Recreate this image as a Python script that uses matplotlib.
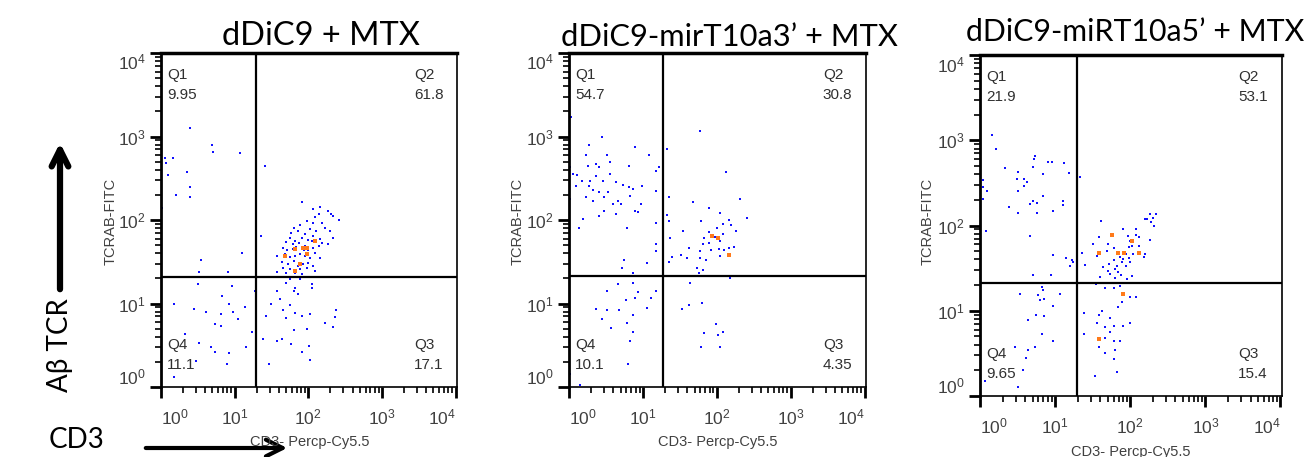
import numpy as np
import matplotlib
matplotlib.use("Agg")
import matplotlib.pyplot as plt
from matplotlib.ticker import FixedLocator, FuncFormatter

plt.rcParams['font.family'] = ['Liberation Sans', 'DejaVu Sans']

# ---- data (log10 of fluorescence) ----
titles = ["dDiC9 + MTX", "dDiC9-mirT10a3\u2019 + MTX", "dDiC9-miRT10a5\u2019 + MTX"]
quad_pct = [
    ["9.95", "61.8", "17.1", "11.1"],
    ["54.7", "30.8", "4.35", "10.1"],
    ["21.9", "53.1", "15.4", "9.65"],
]
# gate positions (CD3, TCRab)
gates = [(19.7, 20.9), (18.6, 21.4), (19.5, 21.4)]

p1_cd3 = [0.40, 0.69, 0.71, 1.07, 0.07, 0.16, 0.06, 0.10, 0.35, 0.39, 0.40, 0.21, 1.41, 0.01, 1.10, 0.55,
          0.52, 0.91, 1.36,
          1.91, 2.07, 2.16, 2.27, 2.31, 2.42, 2.09, 1.98, 1.89, 1.80, 1.86, 1.95, 2.02, 2.11, 2.18, 2.23,
          2.30, 2.34, 2.27, 2.16, 2.07, 2.00, 1.91, 1.82, 1.75, 1.70, 1.66, 1.71, 1.79, 1.84, 1.91, 1.95,
          2.00, 2.07, 2.14, 2.18, 2.16, 2.09, 2.02, 1.95, 1.89, 1.82, 1.75, 1.68, 1.57, 1.65, 1.73, 1.80,
          1.86, 1.93, 2.00, 2.07, 1.89, 1.82, 1.75, 1.66, 1.70, 1.91, 1.98, 2.09, 1.57, 2.05, 1.79, 1.94,
          1.87, 1.76, 2.06, 2.14, 2.34,
          0.50, 0.96, 1.27, 0.17, 0.45, 0.61, 0.83, 0.92, 0.98, 1.14, 0.82, 0.74, 0.81, 1.05, 1.23, 0.68,
          0.74, 0.92, 1.16, 0.89, 0.52, 0.48, 0.17, 0.32,
          1.43, 1.49, 1.57, 1.61, 1.66, 1.70, 1.75, 1.82, 1.91, 2.02, 1.80, 1.98, 2.01, 1.39, 1.58, 1.64,
          1.77, 1.91, 2.02, 1.46, 2.23, 2.33, 2.36, 2.38, 1.80, 1.82, 1.86, 2.05, 2.05, 1.70, 1.89, 1.75]
p1_tcr = [3.10, 2.90, 2.81, 2.80, 2.68, 2.74, 2.74, 2.54, 2.58, 2.39, 2.28, 2.30, 2.65, 2.14, 1.61, 1.52,
          1.38, 1.38, 1.81,
          2.22, 2.13, 2.16, 2.11, 2.07, 2.00, 2.04, 1.99, 1.94, 1.90, 1.87, 1.83, 1.89, 1.87, 1.97, 1.91,
          1.87, 1.79, 1.71, 1.77, 1.81, 1.76, 1.78, 1.75, 1.79, 1.74, 1.67, 1.64, 1.65, 1.68, 1.66, 1.69,
          1.64, 1.66, 1.69, 1.72, 1.55, 1.61, 1.55, 1.57, 1.59, 1.57, 1.56, 1.59, 1.57, 1.50, 1.47, 1.51,
          1.45, 1.47, 1.49, 1.45, 1.41, 1.37, 1.41, 1.43, 1.37, 1.35, 1.43, 1.39, 1.38, 1.75, 1.71, 1.64,
          1.73, 1.84, 1.96, 2.07, 2.05,
          1.23, 1.21, 1.15, 0.99, 0.93, 0.90, 1.09, 1.00, 0.90, 0.96, 0.88, 0.76, 0.73, 0.82, 0.66, 0.48,
          0.42, 0.41, 0.48, 0.27, 0.53, 0.31, 0.12, 0.63,
          0.85, 0.99, 1.15, 1.05, 0.92, 0.83, 0.98, 0.89, 0.85, 0.88, 0.68, 0.69, 0.49, 0.57, 0.55, 0.58,
          0.51, 0.42, 0.32, 0.27, 0.77, 0.72, 0.84, 0.92, 1.15, 1.19, 1.11, 1.23, 1.19, 1.25, 1.29, 1.29]
p1_hot_cd3 = [1.82, 1.93, 1.98, 1.89, 1.82, 2.09, 1.68, 1.98]
p1_hot_tcr = [1.65, 1.67, 1.59, 1.47, 1.39, 1.75, 1.57, 1.67]

p2_cd3 = [0.03, 0.45, 0.27, 0.89, 0.51, 0.23, 1.08, 0.36, 0.26, 0.41, 0.56, 0.81, 0.01, 0.05, 0.11, 0.17,
          0.09, 0.28, 0.36, 0.46, 0.55, 0.64, 0.73, 0.81, 0.87, 0.99, 0.53, 0.41, 0.32, 0.23, 0.32, 0.48,
          0.60, 0.71, 0.82, 0.89, 0.93, 0.98, 0.48, 0.63, 0.41, 0.19, 0.14, 0.02, 1.18, 1.22, 1.18, 1.18,
          1.18, 1.18, 0.79, 0.75, 0.72, 1.05, 0.87, 0.27, 0.66,
          1.77, 1.32, 2.12, 1.35, 1.68, 2.32, 1.32, 1.89, 2.04, 2.41, 1.36, 1.79, 2.17, 2.08, 2.19, 2.00,
          1.90, 1.98, 2.08, 2.26, 1.54, 1.83, 1.90, 1.81, 2.04, 2.17, 2.24, 1.37, 1.63, 1.77, 1.92, 2.03,
          2.10, 1.52, 1.40, 1.60, 1.77, 1.86, 2.04, 1.73, 1.81, 1.76, 1.35,
          0.66, 0.86, 0.94, 0.89, 0.77, 1.11, 1.05, 1.18, 0.51, 0.36, 0.51, 0.67, 0.86, 0.45, 0.78, 0.57,
          0.87, 0.83, 0.80, 0.15, 0.01,
          1.64, 1.53, 1.63, 1.80, 1.99, 1.83, 2.01, 2.09, 1.79, 2.05, 2.18]
p2_tcr = [3.23, 2.99, 2.90, 2.87, 2.78, 2.78, 2.78, 2.67, 2.65, 2.63, 2.70, 2.65, 2.63, 2.55, 2.54, 2.47,
          2.41, 2.47, 2.53, 2.47, 2.55, 2.45, 2.42, 2.39, 2.37, 2.41, 2.34, 2.33, 2.36, 2.27, 2.23, 2.27,
          2.19, 2.19, 2.29, 2.11, 2.10, 2.19, 2.11, 2.07, 2.05, 2.01, 1.91, 2.25, 2.59, 2.63, 2.35, 1.97,
          1.71, 1.63, 1.91, 1.52, 1.43, 1.49, 1.36, 2.41, 2.23,
          3.06, 2.85, 2.57, 2.28, 2.21, 2.25, 2.06, 2.14, 2.08, 2.02, 1.99, 1.99, 2.00, 1.95, 1.94, 1.91,
          1.86, 1.80, 1.83, 1.87, 1.87, 1.79, 1.73, 1.71, 1.75, 1.67, 1.68, 1.78, 1.67, 1.63, 1.64, 1.65,
          1.64, 1.58, 1.56, 1.54, 1.55, 1.52, 1.57, 1.43, 1.40, 1.36, 1.50,
          1.23, 1.25, 1.14, 1.06, 1.04, 1.06, 0.95, 1.15, 1.15, 0.93, 0.92, 0.92, 0.86, 0.81, 0.77, 0.71,
          0.66, 0.55, 0.27, 0.02, 0.15,
          1.25, 0.93, 0.98, 1.01, 0.75, 0.65, 0.62, 0.66, 0.48, 0.48, 1.31]
p2_hot_cd3 = [2.02, 2.17, 1.93]
p2_hot_tcr = [1.78, 1.58, 1.81]

p3_cd3 = [0.16, 0.21, 0.73, 0.72, 0.70, 0.90, 0.96, 1.12, 0.33, 0.50, 1.18, 1.33, 0.49, 0.59, 0.84, 0.63,
          0.59, 0.04, 0.04, 0.09, 0.50, 0.84, 0.04, 0.70, 0.66, 0.76, 1.10, 1.11, 0.39, 0.97, 0.50, 0.76,
          0.08, 0.66, 0.97, 1.15, 1.22, 1.20, 1.24, 0.71, 0.94,
          2.26, 2.22, 2.30, 2.34, 2.28, 2.31, 2.19, 1.61, 1.90, 2.08, 2.11, 1.97, 2.26, 2.12, 2.02, 2.00,
          1.98, 1.95, 1.78, 1.71, 1.58, 1.50, 1.69, 1.87, 1.91, 1.99, 2.04, 2.11, 2.18, 2.20, 1.82, 1.78,
          1.72, 1.82, 1.89, 1.95, 2.00, 1.80, 1.73, 1.84, 1.88, 1.96, 2.02, 1.80, 1.64, 1.60, 1.40, 1.36,
          1.56, 1.70, 2.07, 1.92,
          0.82, 0.84, 0.53, 1.06, 0.77, 0.80, 0.85, 0.97, 0.75, 0.85, 0.64, 0.83, 0.97, 0.73, 0.64, 0.61,
          0.47, 0.07, 0.50, 0.57,
          1.55, 1.67, 1.78, 1.87, 2.00, 2.08, 1.89, 1.84, 1.63, 1.59, 1.38, 1.73, 1.56, 1.67, 1.78, 1.90,
          2.00, 1.73, 1.39, 1.67, 1.78, 1.87, 1.58, 1.67, 1.80, 1.79, 1.83, 1.53]
p3_tcr = [3.06, 2.90, 2.82, 2.78, 2.69, 2.74, 2.74, 2.73, 2.68, 2.63, 2.61, 2.57, 2.55, 2.55, 2.60, 2.51,
          2.46, 2.53, 2.45, 2.41, 2.41, 2.35, 2.31, 2.29, 2.25, 2.26, 2.29, 2.24, 2.22, 2.17, 2.15, 2.15,
          1.93, 1.88, 1.65, 1.62, 1.60, 1.52, 1.57, 1.42, 1.42,
          2.14, 2.08, 2.09, 2.14, 2.04, 1.99, 2.08, 2.05, 1.96, 1.96, 1.86, 1.88, 1.83, 1.76, 1.76, 1.82,
          1.75, 1.67, 1.74, 1.78, 1.86, 1.78, 1.70, 1.63, 1.61, 1.62, 1.67, 1.67, 1.63, 1.67, 1.67, 1.60,
          1.55, 1.53, 1.57, 1.53, 1.57, 1.49, 1.43, 1.46, 1.42, 1.37, 1.41, 1.39, 1.51, 1.40, 1.54, 1.68,
          1.64, 1.47, 1.89, 1.68,
          1.28, 1.24, 1.20, 1.20, 1.18, 1.13, 1.14, 1.06, 0.95, 0.94, 0.89, 0.73, 0.64, 0.58, 0.54, 0.45,
          0.57, 0.18, 0.11, 0.31,
          1.31, 1.27, 1.27, 1.29, 1.16, 1.16, 1.10, 1.04, 1.00, 0.95, 0.97, 0.92, 0.86, 0.81, 0.82, 0.82,
          0.86, 0.75, 0.73, 0.68, 0.64, 0.65, 0.58, 0.50, 0.54, 0.43, 0.28, 0.24]
p3_hot_cd3 = [1.59, 1.84, 1.92, 2.02, 2.12, 1.76, 1.90, 1.59]
p3_hot_tcr = [1.68, 1.68, 1.68, 1.82, 1.68, 1.89, 1.20, 0.67]

W, H = 1308, 457
fig = plt.figure(figsize=(W / 100, H / 100), dpi=100)


def box(left, top, right, bottom):
    return [left / W, 1 - bottom / H, (right - left) / W, (bottom - top) / H]


panel_boxes = [box(161, 53, 457, 387), box(569, 53, 866, 387), box(980, 55, 1282, 396)]
ylabel_x = [111, 518, 928]
xlabel_pos = [(310, 442), (718, 442), (1131, 452)]
title_pos = [(321, 36), (729, 37), (1135, 32)]
title_size = [23.5, 22.2, 21.8]

panels = [(p1_cd3, p1_tcr, p1_hot_cd3, p1_hot_tcr),
          (p2_cd3, p2_tcr, p2_hot_cd3, p2_hot_tcr),
          (p3_cd3, p3_tcr, p3_hot_cd3, p3_hot_tcr)]

dec_fmt = FuncFormatter(lambda v, p: r'$\mathregular{10^{%d}}$' % round(np.log10(v)))
majors = [1, 10, 100, 1000, 10000]
minors = [m * 10 ** d for d in range(4) for m in range(2, 10)]

for i, (cd3, tcr, hcd3, htcr) in enumerate(panels):
    ax = fig.add_axes(panel_boxes[i])
    ax.set_xscale('log')
    ax.set_yscale('log')
    ax.set_xlim(1, 10 ** 4.02)
    ax.set_ylim(1, 10 ** 4.0)
    ax.scatter(10 ** np.array(cd3), 10 ** np.array(tcr), s=4, marker='s', c='#1010ff', linewidths=0)
    ax.scatter(10 ** np.array(hcd3), 10 ** np.array(htcr), s=5, marker='s', c='#ff7a1a', linewidths=0)
    gx, gy = gates[i]
    ax.axvline(gx, color='black', lw=1.6)
    ax.axhline(gy, color='black', lw=1.6)

    ax.xaxis.set_major_locator(FixedLocator(majors))
    ax.yaxis.set_major_locator(FixedLocator(majors))
    ax.xaxis.set_minor_locator(FixedLocator(minors))
    ax.yaxis.set_minor_locator(FixedLocator(minors))
    ax.xaxis.set_major_formatter(dec_fmt)
    ax.yaxis.set_major_formatter(dec_fmt)
    ax.tick_params(which='major', length=8, width=2, direction='out', labelsize=12.5,
                   labelcolor='#404040', pad=7)
    ax.tick_params(axis='y', which='major', pad=3)
    ax.tick_params(which='minor', length=4, width=1.2, direction='out')
    xl = ax.get_xticklabels()
    xl[0].set_ha('left')
    xl[-1].set_ha('right')
    yl = ax.get_yticklabels()
    yl[0].set_va('bottom')
    yl[-1].set_va('top')

    for s in ax.spines.values():
        s.set_linewidth(1.2)
    ax.spines['top'].set_linewidth(2.5)
    ax.spines['left'].set_linewidth(2.0)

    q1, q2, q3, q4 = quad_pct[i]
    qkw = dict(transform=ax.transAxes, fontsize=11, color='#303030', linespacing=1.5)
    ax.text(0.02, 0.955, "Q1\n" + q1, ha='left', va='top', **qkw)
    ax.text(0.855, 0.955, "Q2\n" + q2, ha='left', va='top', **qkw)
    ax.text(0.02, 0.045, "Q4\n" + q4, ha='left', va='bottom', **qkw)
    ax.text(0.855, 0.045, "Q3\n" + q3, ha='left', va='bottom', **qkw)

    fig.text(ylabel_x[i] / W, 1 - 221 / H, "TCRAB-FITC", rotation=90, ha='center', va='center',
             fontsize=10.5, color='#404040')
    fig.text(xlabel_pos[i][0] / W, 1 - xlabel_pos[i][1] / H, "CD3- Percp-Cy5.5", ha='center',
             va='center', fontsize=10.5, color='#404040')
    fig.text(title_pos[i][0] / W, 1 - title_pos[i][1] / H, titles[i], ha='center', va='center',
             fontsize=title_size[i], family=['Lato', 'DejaVu Sans'], color='black')

# side annotations
fig.text(60 / W, 1 - 345 / H, "A\u03b2 TCR", rotation=90, ha='center', va='center', fontsize=20,
         family=['Lato', 'DejaVu Sans'])
fig.text(77 / W, 1 - 440 / H, "CD3", ha='center', va='center', fontsize=20, family=['Lato', 'DejaVu Sans'])
fig.patches.append(matplotlib.patches.FancyArrowPatch(
    (60 / W, 1 - 292 / H), (60 / W, 1 - 140 / H), transform=fig.transFigure,
    arrowstyle='->,head_length=4,head_width=2', lw=4.5, color='black', mutation_scale=3))
fig.patches.append(matplotlib.patches.FancyArrowPatch(
    (143 / W, 1 - 448 / H), (290 / W, 1 - 448 / H), transform=fig.transFigure,
    arrowstyle='->,head_length=4,head_width=2', lw=3, color='black', mutation_scale=3))

fig.savefig("out.png", dpi=100)
